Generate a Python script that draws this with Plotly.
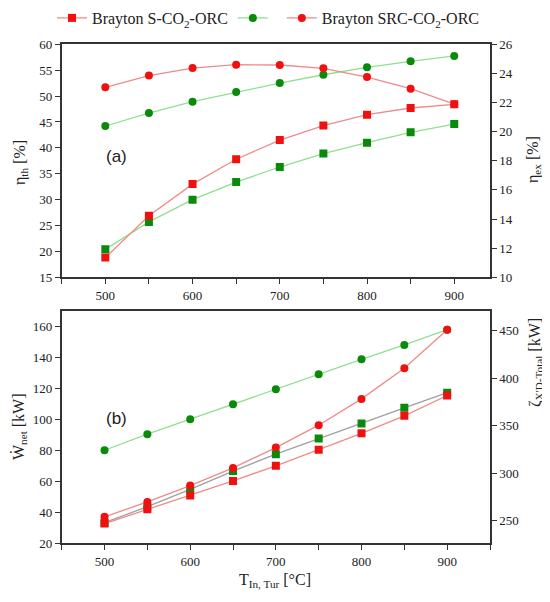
import plotly.graph_objects as go

T = [500, 550, 600, 650, 700, 750, 800, 850, 900]

# Panel (a)
eta_th_red = [18.8, 26.9, 33.0, 37.8, 41.5, 44.3, 46.4, 47.7, 48.4]
eta_th_green = [20.4, 25.7, 30.0, 33.4, 36.3, 38.9, 41.0, 43.0, 44.6]
eta_ex_red = [23.05, 23.85, 24.37, 24.60, 24.58, 24.35, 23.75, 22.95, 21.89]
eta_ex_green = [20.39, 21.28, 22.06, 22.72, 23.34, 23.91, 24.42, 24.83, 25.20]

# Panel (b)
w_net_red = [32.7, 41.9, 50.9, 60.2, 70.0, 80.3, 90.9, 102.2, 115.3]
w_net_green = [33.3, 43.6, 54.8, 66.6, 77.5, 87.6, 97.3, 107.4, 117.1]
zeta_red = [253.9, 269.6, 286.8, 305.4, 326.8, 350.4, 378.1, 410.4, 451.0]
zeta_green = [324.0, 340.9, 356.7, 372.5, 388.2, 404.0, 419.8, 434.9, 451.0]

RED = "#f01010"
GREEN = "#0a8a0a"
LRED = "#f08a8a"
LGREEN = "#8fe08f"
GRAY = "#a0a0a0"
SERIF = "'Liberation Serif', 'Times New Roman', Times, serif"
SANS = "'Liberation Sans', Arial, sans-serif"
TXT = "#222"

fig = go.Figure()

def add(x, y, xa, ya, mcol, lcol, sym, name="", show=False):
    fig.add_trace(go.Scatter(
        x=x, y=y, xaxis=xa, yaxis=ya, mode="lines+markers", name=name,
        showlegend=show,
        line=dict(color=lcol, width=1.3),
        marker=dict(color=mcol, symbol=sym, size=8, line=dict(width=0)),
    ))

# panel a
add(T, eta_th_green, "x", "y", GREEN, LGREEN, "square")
add(T, eta_th_red, "x", "y", RED, LRED, "square", "Brayton S-CO<sub>2</sub>-ORC", True)
add(T, eta_ex_green, "x", "y2", GREEN, LGREEN, "circle", " ", True)
add(T, eta_ex_red, "x", "y2", RED, LRED, "circle", "Brayton SRC-CO<sub>2</sub>-ORC", True)
# panel b
add(T, zeta_green, "x2", "y4", GREEN, LGREEN, "circle")
add(T, w_net_green, "x2", "y3", GREEN, GRAY, "square")
add(T, w_net_red, "x2", "y3", RED, LRED, "square")
add(T, zeta_red, "x2", "y4", RED, LRED, "circle")

# page has an 8 px body margin: figure coords = page coords - 8
OFF = 8
W, H = 542, 594

def px(p):
    return (p - OFF) / W

def py(p):
    return 1 - (p - OFF) / H

XD = [px(61.7), px(490)]
ya_dom = [py(277.3), py(44.3)]
yb_dom = [py(543.3), py(310.7)]

tickfont = dict(family=SERIF, size=13, color=TXT)
titlefont = dict(family=SERIF, size=16, color=TXT)
common = dict(showline=True, linecolor="#333", linewidth=1.5, ticks="outside",
              ticklen=5, tickwidth=1.2, tickcolor="#333", tickfont=tickfont,
              showgrid=False, zeroline=False, automargin=False)
minor = dict(dtick=50, tick0=500, ticks="outside", ticklen=5, tickwidth=1.2,
             tickcolor="#333")

def ann(text, x, y, angle=0, font=titlefont):
    return dict(text=text, x=px(x), y=py(y), xref="paper", yref="paper",
                showarrow=False, textangle=angle, font=font,
                xanchor="center", yanchor="middle")

fig.update_layout(
    width=W, height=H,
    margin=dict(l=0, r=0, t=0, b=0, autoexpand=False),
    paper_bgcolor="white", plot_bgcolor="white",
    font=dict(family=SERIF, color=TXT),
    xaxis=dict(domain=XD, anchor="y", range=[450, 941], dtick=100, tick0=500,
               mirror=True, minor=minor, **common),
    yaxis=dict(domain=ya_dom, anchor="x", range=[15, 60], dtick=5, mirror=True,
               **common),
    yaxis2=dict(anchor="x", overlaying="y", side="right", range=[10, 26], dtick=2,
                **common),
    xaxis2=dict(domain=XD, anchor="y3", range=[450, 950], dtick=100, tick0=500,
                mirror=True, minor=minor, **common),
    yaxis3=dict(domain=yb_dom, anchor="x2", range=[20, 170], dtick=20, tick0=20,
                mirror=True, **common),
    yaxis4=dict(anchor="x2", overlaying="y3", side="right", range=[226, 471],
                dtick=50, tick0=250, **common),
    legend=dict(orientation="h", x=px(268), xanchor="center", y=py(1), yanchor="top",
                font=dict(family=SERIF, size=16, color=TXT),
                bgcolor="rgba(0,0,0,0)", itemwidth=30, tracegroupgap=0),
    annotations=[
        ann("(a)", 116.7, 156.7, font=dict(family=SANS, size=17, color=TXT)),
        ann("(b)", 116.7, 418.3, font=dict(family=SANS, size=17, color=TXT)),
        ann("η<sub>th</sub> [%]", 20, 163, -90),
        ann("η<sub>ex</sub> [%]", 534, 160, -90),
        ann("Ẇ<sub>net</sub> [kW]", 19, 427, -90),
        ann("ζ<sub>X'D-Total</sub> [kW]", 535, 363, -90),
        ann("T<sub>In, Tur</sub> [°C]", 275, 580),
    ],
)

fig.write_html("out.html")
